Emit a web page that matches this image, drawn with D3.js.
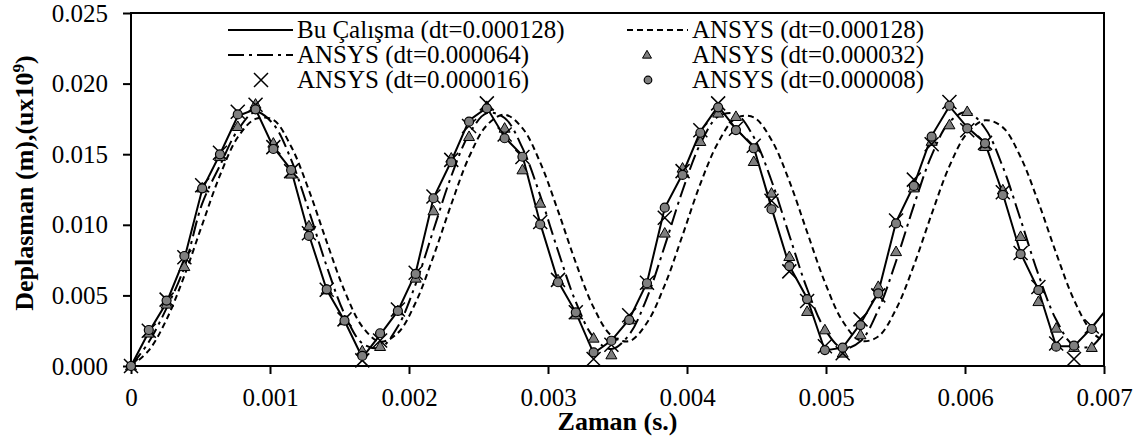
<!DOCTYPE html>
<html><head><meta charset="utf-8">
<script src="https://cdn.jsdelivr.net/npm/d3@7"></script>
<style>body{margin:0;background:#fff;} text{font-family:"Liberation Serif","Times New Roman",serif;fill:#000;}</style>
</head><body><svg id="c" width="1144" height="443"></svg>
<script>
// ---- data ----
const time = [0,0.000128,0.000256,0.000384,0.000512,0.00064,0.000768,0.000896,0.001024,0.001152,
0.00128,0.001408,0.001536,0.001664,0.001792,0.00192,0.002048,0.002176,0.002304,0.002432,
0.00256,0.002688,0.002816,0.002944,0.003072,0.0032,0.003328,0.003456,0.003584,0.003712,
0.00384,0.003968,0.004096,0.004224,0.004352,0.00448,0.004608,0.004736,0.004864,0.004992,
0.00512,0.005248,0.005376,0.005504,0.005632,0.00576,0.005888,0.006016,0.006144,0.006272,
0.0064,0.006528,0.006656,0.006784,0.006912,0.007];

const buCalisma = [0,0.0024,0.0045,0.0076,0.0125,0.0150,0.0177,0.0182,0.0155,0.0139,
0.0093,0.0054,0.0032,0.0006,0.0022,0.0039,0.0066,0.0119,0.0145,0.0174,
0.0183,0.0162,0.0149,0.0101,0.0060,0.0038,0.0009,0.0018,0.0033,0.0059,
0.0112,0.0136,0.0166,0.0184,0.0168,0.0155,0.0112,0.0071,0.0048,0.0011,
0.0013,0.0030,0.0052,0.0102,0.0128,0.0163,0.0184,0.0169,0.0158,0.0122,
0.0080,0.0054,0.0014,0.0014,0.0027,0.0038];

const ansys128 = [0,0.0011,0.0033,0.0064,0.0100,0.0135,0.0162,0.0175,0.01743,0.01555,
0.01245,0.00879,0.00533,0.00279,0.00172,0.00234,0.0045,0.00777,0.01145,0.0148,
0.01705,0.0178,0.01685,0.01441,0.01099,0.00732,0.00415,0.00216,0.00176,0.00306,
0.00573,0.00926,0.0129,0.01583,0.01756,0.01761,0.01601,0.0131,0.00949,0.00593,
0.00317,0.00179,0.00209,0.00403,0.00712,0.01076,0.01415,0.0165,0.0174,0.0169,
0.0148,0.0116,0.00799,0.00468,0.00242,0.00175];

const ansys064 = [0,0.0017,0.0041,0.0070,0.0115,0.0142,0.0167,0.0180,0.01713,0.01462,
0.01099,0.00706,0.00369,0.00161,0.0013,0.0028,0.0058,0.00963,0.01344,0.01641,
0.01791,0.01756,0.01545,0.01207,0.00816,0.00454,0.00204,0.0012,0.00222,0.00483,
0.00851,0.01243,0.01573,0.01767,0.01785,0.01621,0.01312,0.00926,0.00547,0.0026,
0.00125,0.00175,0.00397,0.00742,0.01136,0.01492,0.01728,0.01798,0.01684,0.0141,
0.01037,0.00648,0.00327,0.00145,0.00142,0.00245];

const ansys032 = [0,0.00232,0.00437,0.00703,0.0126,0.01482,0.01695,0.01853,0.01577,0.01358,
0.00991,0.00538,0.0032,0.00106,0.00137,0.0039,0.00621,0.01098,0.01471,0.01624,
0.01837,0.01683,0.01388,0.01152,0.00609,0.00361,0.00196,0.00078,0.00326,0.00574,
0.0094,0.014,0.01589,0.0179,0.01766,0.01447,0.01223,0.00774,0.00385,0.00255,
0.0009,0.0022,0.00562,0.00809,0.0126,0.0159,0.01707,0.01801,0.01553,0.01246,
0.00916,0.00455,0.00267,0.0013,0.0013];

const ansys016 = [0,0.0025,0.0047,0.0077,0.0128,0.0151,0.018,0.0185,0.0155,0.0138,
0.0094,0.0054,0.0033,0.0004,0.0018,0.004,0.0066,0.012,0.0146,0.017,
0.0186,0.0164,0.0148,0.0102,0.0061,0.0038,0.0005,0.0015,0.0036,0.0059,
0.0105,0.0138,0.0167,0.0186,0.0168,0.0156,0.0117,0.0067,0.0046,0.0014,
0.0009,0.0033,0.005,0.0103,0.0132,0.0157,0.0187,0.0167,0.0158,0.0123,
0.008,0.0056,0.0016,0.0005,0.0028];

const ansys008 = [0,0.00255,0.00463,0.00779,0.01258,0.01499,0.01782,0.01818,0.01537,0.01388,
0.00921,0.00543,0.00321,0.00071,0.00232,0.0039,0.00652,0.01188,0.01443,0.0173,
0.01825,0.01613,0.01482,0.01003,0.00593,0.0038,0.00097,0.00179,0.00326,0.00586,
0.01121,0.01353,0.01652,0.01832,0.01671,0.01542,0.0111,0.00708,0.00474,0.00113,
0.0013,0.0029,0.00515,0.0101,0.01275,0.01624,0.01843,0.01683,0.01577,0.01211,
0.00793,0.00538,0.00137,0.00144,0.00262];

const xTickValues = [0,0.001,0.002,0.003,0.004,0.005,0.006,0.007];
const xTickLabels = ["0","0.001","0.002","0.003","0.004","0.005","0.006","0.007"];
const yTickValues = [0,0.005,0.010,0.015,0.020,0.025];
const yTickLabels = ["0.000","0.005","0.010","0.015","0.020","0.025"];
const legendLabels = ["Bu Çalışma (dt=0.000128)","ANSYS (dt=0.000128)","ANSYS (dt=0.000064)",
  "ANSYS (dt=0.000032)","ANSYS (dt=0.000016)","ANSYS (dt=0.000008)"];
const xTitle = "Zaman (s.)";
const yTitleMain = "Deplasman (m),(ux10", yTitleSup = "9", yTitleEnd = ")";

// ---- chart ----
const svg = d3.select("#c");
svg.append("rect").attr("width",1144).attr("height",443).attr("fill","#fff");
const L=131,R=1104,T=13,B=366;
const x = d3.scaleLinear().domain([0,0.007]).range([L,R]);
const y = d3.scaleLinear().domain([0,0.025]).range([B,T]);
const FS = 25;

svg.append("defs").append("clipPath").attr("id","clip")
  .append("rect").attr("x",L).attr("y",T-5).attr("width",R-L).attr("height",B-T+10);

// axes
const xa = svg.append("g").attr("transform",`translate(0,${B})`)
  .call(d3.axisBottom(x).tickValues(xTickValues).tickFormat((d,i)=>xTickLabels[i]).tickSize(8).tickPadding(14));
const ya = svg.append("g").attr("transform",`translate(${L},0)`)
  .call(d3.axisLeft(y).tickValues(yTickValues).tickFormat((d,i)=>yTickLabels[i]).tickSize(8).tickPadding(15));
[xa,ya].forEach(g=>{
  g.select(".domain").remove();
  g.selectAll(".tick line").attr("stroke","#000").attr("stroke-width",2);
  g.selectAll(".tick text").attr("font-size",FS).attr("font-family","Liberation Serif").attr("fill","#000");
});
svg.append("rect").attr("x",L).attr("y",T).attr("width",R-L).attr("height",B-T)
  .attr("fill","none").attr("stroke","#000").attr("stroke-width",2);

// lines
const plot = svg.append("g").attr("clip-path","url(#clip)");
const lin = d3.line().x((d,i)=>x(time[i])).y(d=>y(d));
const smooth = d3.line().x((d,i)=>x(time[i])).y(d=>y(d)).curve(d3.curveCatmullRom.alpha(0.5));
const styles = {
  solid: {w:2, dash:null},
  dashed: {w:2, dash:"6,4"},
  dashdot: {w:2, dash:"16,5,3,5"}
};
plot.append("path").attr("d",lin(buCalisma)).attr("fill","none").attr("stroke","#000").attr("stroke-width",styles.solid.w);
plot.append("path").attr("d",smooth(ansys128)).attr("fill","none").attr("stroke","#000").attr("stroke-width",styles.dashed.w).attr("stroke-dasharray",styles.dashed.dash);
plot.append("path").attr("d",smooth(ansys064)).attr("fill","none").attr("stroke","#000").attr("stroke-width",styles.dashdot.w).attr("stroke-dasharray",styles.dashdot.dash);

// markers
const GRAY="#7f7f7f";
function tri(g,cx,cy,s){ // s = side
  const h=s*0.87;
  g.append("path").attr("d",`M${cx},${cy-h*0.6}L${cx+s/2},${cy+h*0.4}L${cx-s/2},${cy+h*0.4}Z`)
   .attr("fill",GRAY).attr("stroke","#000").attr("stroke-width",1);
}
function cross(g,cx,cy,r){
  g.append("path").attr("d",`M${cx-r},${cy-r}L${cx+r},${cy+r}M${cx-r},${cy+r}L${cx+r},${cy-r}`)
   .attr("stroke","#000").attr("stroke-width",1.5).attr("fill","none");
}
function circ(g,cx,cy,r){
  g.append("circle").attr("cx",cx).attr("cy",cy).attr("r",r).attr("fill",GRAY).attr("stroke","#000").attr("stroke-width",1.2);
}
const mk = svg.append("g");
ansys032.forEach((v,i)=>tri(mk,x(time[i]),y(v),11));
ansys016.forEach((v,i)=>cross(mk,x(time[i]),y(v),7));
ansys008.forEach((v,i)=>circ(mk,x(time[i]),y(v),4.5));

// legend
const lg = svg.append("g");
const rowsY=[30,55,80], baseY=[37.5,62.5,87.5];
const col1Sym=[228,293], col2Sym=[627,688], col1Tx=297, col2Tx=692;
function ltext(tx,ty,s){ lg.append("text").attr("x",tx).attr("y",ty).attr("font-size",FS).text(s); }
lg.append("line").attr("x1",col1Sym[0]).attr("x2",col1Sym[1]).attr("y1",rowsY[0]).attr("y2",rowsY[0]).attr("stroke","#000").attr("stroke-width",2);
ltext(col1Tx,baseY[0],legendLabels[0]);
lg.append("line").attr("x1",col2Sym[0]).attr("x2",col2Sym[1]).attr("y1",rowsY[0]).attr("y2",rowsY[0]).attr("stroke","#000").attr("stroke-width",2).attr("stroke-dasharray",styles.dashed.dash);
ltext(col2Tx,baseY[0],legendLabels[1]);
lg.append("line").attr("x1",col1Sym[0]).attr("x2",col1Sym[1]).attr("y1",rowsY[1]).attr("y2",rowsY[1]).attr("stroke","#000").attr("stroke-width",2).attr("stroke-dasharray",styles.dashdot.dash);
ltext(col1Tx,baseY[1],legendLabels[2]);
tri(lg,647,rowsY[1],9);
ltext(col2Tx,baseY[1],legendLabels[3]);
cross(lg,261,rowsY[2],7);
ltext(col1Tx,baseY[2],legendLabels[4]);
circ(lg,648,rowsY[2],3.8);
ltext(col2Tx,baseY[2],legendLabels[5]);

// titles
svg.append("text").attr("x",(L+R)/2).attr("y",430).attr("text-anchor","middle")
  .attr("font-size",26).attr("font-weight","bold").text(xTitle);
const yt = svg.append("text").attr("transform","translate(33,183) rotate(-90)").attr("text-anchor","middle")
  .attr("font-size",26).attr("font-weight","bold");
yt.append("tspan").text(yTitleMain);
yt.append("tspan").attr("dy",-9).attr("font-size",17).text(yTitleSup);
yt.append("tspan").attr("dy",9).text(yTitleEnd);
</script></body></html>
